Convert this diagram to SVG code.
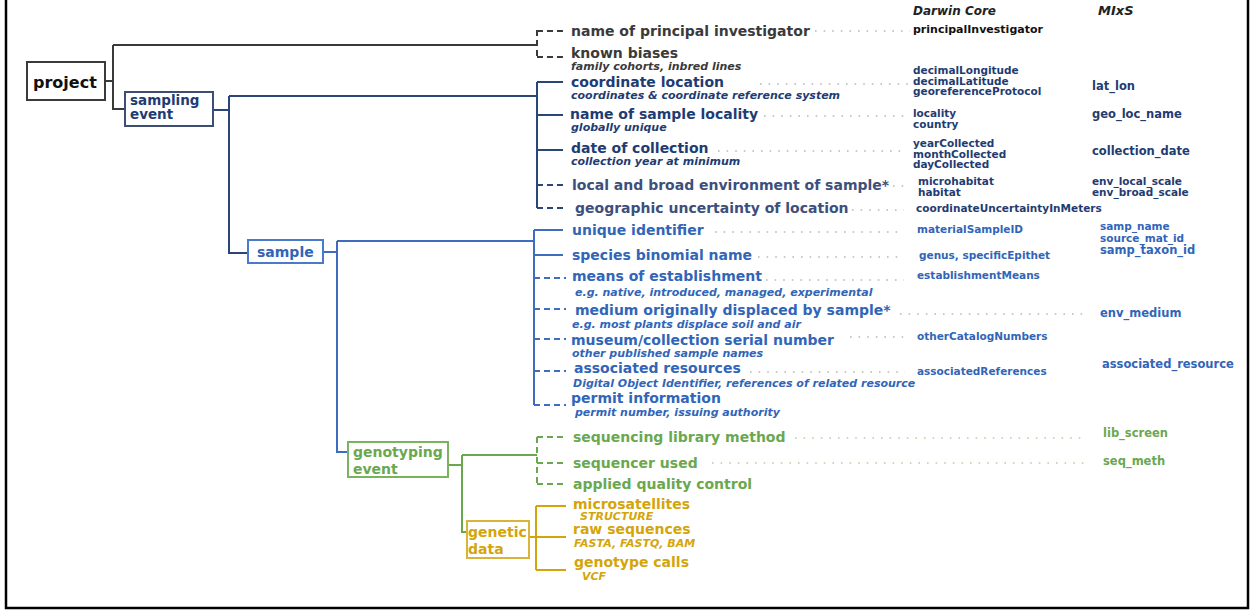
<svg xmlns="http://www.w3.org/2000/svg" width="1254" height="614" viewBox="0 0 1254 614">
<style>
text{font-family:"DejaVu Sans","Liberation Sans",sans-serif;font-weight:bold}
.lab{font-size:14px}
.sub{font-size:11px;font-style:italic}
.dwc{font-size:10.5px}
.mix{font-size:11.5px}
.stk{font-size:10.5px}
.hdr{font-style:italic;fill:#222}
.box{fill:#fff;stroke-width:2}
.ln{fill:none;stroke-width:2}
.dash{fill:none;stroke-width:2;stroke-dasharray:6 4}
.dot{fill:none;stroke-width:1.6;stroke-dasharray:1.6 7}
.gray{fill:#3a3a3a}
.navy{fill:#1f3c72}
.slate{fill:#3d4f7c}
.blue{fill:#3165b8}
.green{fill:#6aa84f}
.gold{fill:#d4a50a}
</style>
<rect x="6" y="-5" width="1242" height="613" fill="#fff" stroke="#000" stroke-width="2.5"/>

<g id="connectors">
  <!-- project -->
  <path class="ln" stroke="#3a3a3a" d="M105 81H113M113 45V109H125M113 45H537"/>
  <path class="dash" stroke="#3a3a3a" d="M537 30V57M537 31H567M537 57H567"/>
  <!-- sampling event -->
  <path class="ln" stroke="#2a4578" d="M213 110H229M229 96V253H248M229 96H537M537 82V208M537 82H563M537 115H563M537 150H563"/>
  <path class="dash" stroke="#2a4578" d="M537 185H567M537 208H567"/>
  <!-- sample -->
  <path class="ln" stroke="#3d6cc0" d="M323 252H337M337 241V452H348M337 241H534M534 230V405M534 230H563M534 255H563"/>
  <path class="dash" stroke="#3d6cc0" d="M534 278H566M534 309H566M534 339H566M534 371H566M534 405H566"/>
  <!-- genotyping event -->
  <path class="ln" stroke="#6aa84f" d="M448 465H462M462 455V532H467M462 455H537"/>
  <path class="dash" stroke="#6aa84f" d="M537 437V485M537 437H567M537 463H567M537 484H567"/>
  <!-- genetic data -->
  <path class="ln" stroke="#d4a50a" d="M529 537H536M536 506V570M536 506H566M536 537H566M536 570H566"/>
  <!-- leaders -->
  <g stroke="#b8b8b8">
    <path class="dot" d="M815 31H910"/>
    <path class="dot" d="M760 84H910"/>
    <path class="dot" d="M764 116H910"/>
    <path class="dot" d="M718 151H904"/>
    <path class="dot" d="M893 186H904"/>
    <path class="dot" d="M852 210H904"/>
    <path class="dot" d="M715 232H904"/>
    <path class="dot" d="M758 257H904"/>
    <path class="dot" d="M766 280H904"/>
    <path class="dot" d="M900 314H1085"/>
    <path class="dot" d="M850 337H905"/>
    <path class="dot" d="M750 372H905"/>
  </g>
  <g stroke="#b5d2a2">
    <path class="dot" d="M795 438H1084"/>
    <path class="dot" d="M712 463H1084"/>
  </g>
</g>

<g id="headers">
  <text class="hdr" x="913" y="15" font-size="12">Darwin Core</text>
  <text class="hdr" x="1098" y="15" font-size="13">MIxS</text>
</g>

<g id="project">
  <rect class="box" x="27" y="62" width="78" height="38" stroke="#3a3a3a"/>
  <text x="33" y="88" font-size="16" fill="#111">project</text>
</g>
<g id="sampling-event">
  <rect class="box" x="125" y="92" width="88" height="34" stroke="#3c4f72"/>
  <text x="130" y="105" font-size="13.5" class="navy">sampling</text>
  <text x="130" y="119" font-size="13.5" class="navy">event</text>
</g>
<g id="sample">
  <rect class="box" x="248" y="240" width="75" height="23" stroke="#4a7bc8"/>
  <text x="257" y="257" font-size="14" class="blue">sample</text>
</g>
<g id="genotyping-event">
  <rect class="box" x="348" y="442" width="100" height="35" stroke="#7ab35e"/>
  <text x="353" y="457" font-size="14" class="green">genotyping</text>
  <text x="353" y="474" font-size="14" class="green">event</text>
</g>
<g id="genetic-data">
  <rect class="box" x="467" y="521" width="62" height="37" stroke="#dab43a"/>
  <text x="468" y="537" font-size="14" class="gold">genetic</text>
  <text x="468" y="554" font-size="14" class="gold">data</text>
</g>

<g id="principal-investigator">
  <text class="lab gray" x="571" y="36">name of principal investigator</text>
  <text x="913" y="33" font-size="11" fill="#111">principalInvestigator</text>
</g>
<g id="known-biases">
  <text class="lab gray" x="571" y="58">known biases</text>
  <text class="sub gray" x="571" y="70">family cohorts, inbred lines</text>
</g>

<g id="coordinate-location">
  <text class="lab navy" x="571" y="87">coordinate location</text>
  <text class="sub navy" x="571" y="99">coordinates &amp; coordinate reference system</text>
  <text class="stk navy" x="913" y="74">decimalLongitude</text>
  <text class="stk navy" x="913" y="84.5">decimalLatitude</text>
  <text class="stk navy" x="913" y="95">georeferenceProtocol</text>
  <text class="mix navy" x="1092" y="90">lat_lon</text>
</g>
<g id="sample-locality">
  <text class="lab navy" x="570" y="119">name of sample locality</text>
  <text class="sub navy" x="571" y="130.5">globally unique</text>
  <text class="stk navy" x="913" y="117">locality</text>
  <text class="stk navy" x="913" y="127.5">country</text>
  <text class="mix navy" x="1092" y="118">geo_loc_name</text>
</g>
<g id="date-of-collection">
  <text class="lab navy" x="571" y="153">date of collection</text>
  <text class="sub navy" x="571" y="165">collection year at minimum</text>
  <text class="stk navy" x="913" y="147">yearCollected</text>
  <text class="stk navy" x="913" y="157.5">monthCollected</text>
  <text class="stk navy" x="913" y="168">dayCollected</text>
  <text class="mix navy" x="1092" y="155">collection_date</text>
</g>
<g id="environment">
  <text class="lab slate" x="572" y="190">local and broad environment of sample*</text>
  <text class="stk navy" x="918" y="185">microhabitat</text>
  <text class="stk navy" x="918" y="195.5">habitat</text>
  <text class="stk navy" x="1092" y="185" font-size="11.5">env_local_scale</text>
  <text class="stk navy" x="1092" y="196" font-size="11.5">env_broad_scale</text>
</g>
<g id="geographic-uncertainty">
  <text class="lab slate" x="575" y="213">geographic uncertainty of location</text>
  <text class="dwc navy" x="916" y="212">coordinateUncertaintyInMeters</text>
</g>

<g id="unique-identifier">
  <text class="lab blue" x="572" y="235">unique identifier</text>
  <text class="dwc blue" x="917" y="233">materialSampleID</text>
  <text class="stk blue" x="1100" y="229.5" font-size="11.5">samp_name</text>
  <text class="stk blue" x="1100" y="241.5" font-size="11.5">source_mat_id</text>
</g>
<g id="species-name">
  <text class="lab blue" x="572" y="260">species binomial name</text>
  <text class="dwc blue" x="919" y="259">genus, specificEpithet</text>
  <text class="mix blue" x="1100" y="254">samp_taxon_id</text>
</g>
<g id="establishment">
  <text class="lab blue" x="572" y="281">means of establishment</text>
  <text class="sub blue" x="575" y="296">e.g. native, introduced, managed, experimental</text>
  <text class="dwc blue" x="917" y="279">establishmentMeans</text>
</g>
<g id="medium">
  <text class="lab blue" x="575" y="315">medium originally displaced by sample*</text>
  <text class="sub blue" x="572" y="328">e.g. most plants displace soil and air</text>
  <text class="mix blue" x="1100" y="317">env_medium</text>
</g>
<g id="serial-number">
  <text class="lab blue" x="571" y="345">museum/collection serial number</text>
  <text class="sub blue" x="572" y="357">other published sample names</text>
  <text class="dwc blue" x="917" y="340">otherCatalogNumbers</text>
</g>
<g id="associated-resources">
  <text class="lab blue" x="574" y="373">associated resources</text>
  <text class="sub blue" x="573" y="387">Digital Object Identifier, references of related resource</text>
  <text class="dwc blue" x="917" y="375">associatedReferences</text>
  <text class="mix blue" x="1102" y="368">associated_resource</text>
</g>
<g id="permit">
  <text class="lab blue" x="571" y="403">permit information</text>
  <text class="sub blue" x="575" y="416">permit number, issuing authority</text>
</g>

<g id="library-method">
  <text class="lab green" x="573" y="442">sequencing library method</text>
  <text class="mix green" x="1103" y="437">lib_screen</text>
</g>
<g id="sequencer">
  <text class="lab green" x="573" y="468">sequencer used</text>
  <text class="mix green" x="1103" y="465">seq_meth</text>
</g>
<g id="quality-control">
  <text class="lab green" x="573" y="489">applied quality control</text>
</g>

<g id="microsatellites">
  <text class="lab gold" x="573" y="509">microsatellites</text>
  <text class="sub gold" x="580" y="520">STRUCTURE</text>
</g>
<g id="raw-sequences">
  <text class="lab gold" x="573" y="534">raw sequences</text>
  <text class="sub gold" x="574" y="547">FASTA, FASTQ, BAM</text>
</g>
<g id="genotype-calls">
  <text class="lab gold" x="574" y="567">genotype calls</text>
  <text class="sub gold" x="582" y="580">VCF</text>
</g>
</svg>
